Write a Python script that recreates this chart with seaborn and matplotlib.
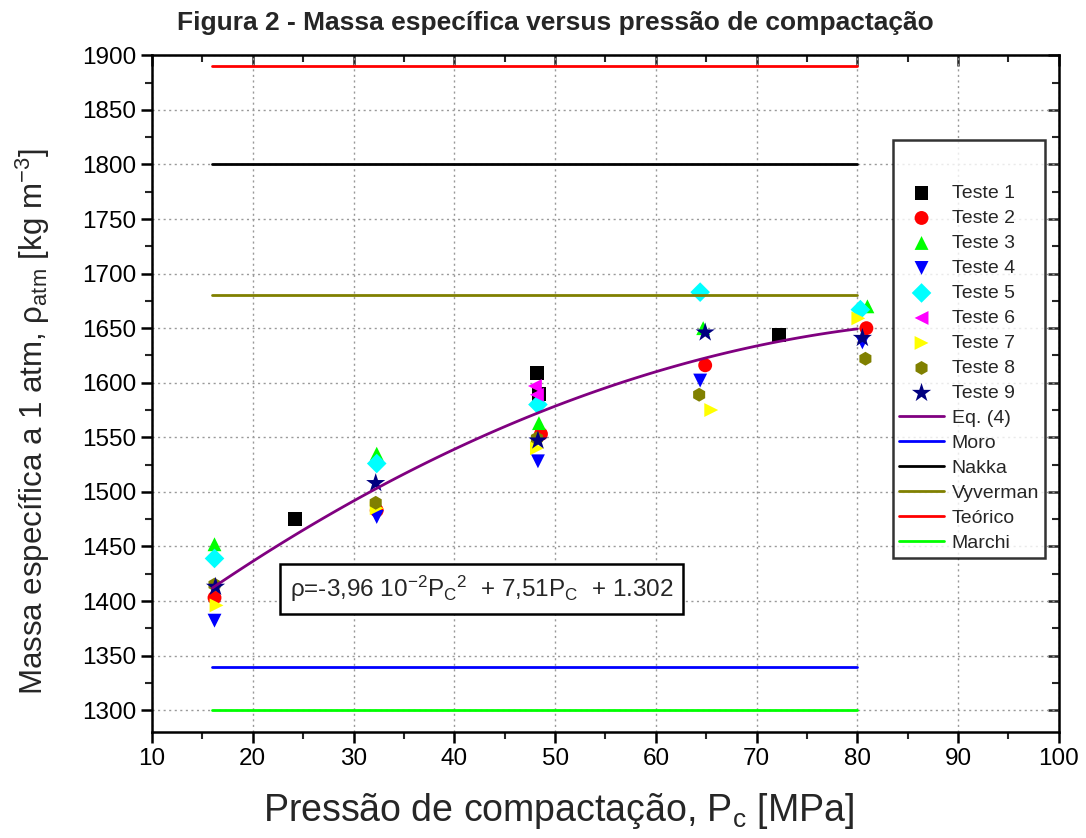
import numpy as np
import pandas as pd
import matplotlib
matplotlib.use("Agg")
import matplotlib.pyplot as plt
from matplotlib.ticker import MultipleLocator
import seaborn as sns

teste_nomes = ["Teste 1", "Teste 2", "Teste 3", "Teste 4", "Teste 5",
               "Teste 6", "Teste 7", "Teste 8", "Teste 9"]
teste_p = [
    [24.2, 48.2, 48.4, 72.2],
    [16.2, 32.3, 48.6, 64.9, 80.9],
    [16.2, 32.3, 48.4, 64.7, 81.0],
    [16.2, 32.3, 48.3, 64.4, 80.5],
    [16.2, 32.3, 48.3, 64.4, 80.3],
    [48.0, 48.2],
    [16.4, 32.3, 48.2, 65.5, 80.1],
    [16.2, 32.2, 48.2, 64.3, 80.8],
    [16.3, 32.2, 48.3, 64.9, 80.5],
]
teste_rho = [
    [1475, 1609, 1590, 1644],
    [1403, 1483, 1553, 1616, 1650],
    [1452, 1535, 1563, 1650, 1670],
    [1382, 1477, 1528, 1602, 1637],
    [1439, 1526, 1580, 1683, 1667],
    [1597, 1589],
    [1396, 1485, 1540, 1575, 1659],
    [1415, 1490, 1549, 1589, 1622],
    [1413, 1508, 1547, 1646, 1641],
]
teste_cores = ["#000000", "#ff0000", "#00ff00", "#0000ff", "#00ffff",
               "#ff00ff", "#ffff00", "#808000", "#000080"]
teste_marcadores = ["s", "o", "^", "v", "D", "<", ">", "h", "*"]

# Eq. (4): rho = a P^2 + b P + c
eq_coef = [-3.96e-2, 7.51, 1302]
eq_p_lim = [16, 80]

# valores de referencia (linhas horizontais)
ref_nomes = ["Moro", "Nakka", "Vyverman", "Teórico", "Marchi"]
ref_rho = [1340, 1800, 1680, 1890, 1300]
ref_cores = ["#0000ff", "#000000", "#808000", "#ff0000", "#00ff00"]
ref_p_lim = [16, 80]

sns.set_style("ticks")
plt.rcParams["font.family"] = ["Liberation Sans", "DejaVu Sans"]
plt.rcParams["mathtext.fontset"] = "custom"
plt.rcParams["mathtext.rm"] = "Liberation Sans"
plt.rcParams["mathtext.it"] = "Liberation Sans:italic"

fig = plt.figure(figsize=(10.86, 8.38), dpi=100)
ax = fig.add_axes([0.140, 0.1265, 0.835, 0.8075])

for nome, px, py, cor, m in zip(teste_nomes, teste_p, teste_rho, teste_cores, teste_marcadores):
    tam = 210 if m == "*" else 100
    sns.scatterplot(x=px, y=py, ax=ax, color=cor, marker=m, s=tam,
                    edgecolor="none", label=nome, zorder=1)

p_eq = np.linspace(eq_p_lim[0], eq_p_lim[1], 100)
rho_eq = np.polyval(eq_coef, p_eq)
sns.lineplot(x=p_eq, y=rho_eq, ax=ax, color="#800080", lw=2, label="Eq. (4)", zorder=3)

for nome, r, cor in zip(ref_nomes, ref_rho, ref_cores):
    sns.lineplot(x=ref_p_lim, y=[r, r], ax=ax, color=cor, lw=2, label=nome, zorder=3)

ax.set_xlim(10, 100)
ax.set_ylim(1280, 1900)
ax.xaxis.set_major_locator(MultipleLocator(10))
ax.xaxis.set_minor_locator(MultipleLocator(5))
ax.yaxis.set_major_locator(MultipleLocator(50))
ax.yaxis.set_minor_locator(MultipleLocator(25))
ax.grid(True, which="major", ls=(0, (1.5, 2.5)), color="#999999", lw=1)
ax.tick_params(which="major", direction="out", length=8, width=1.8, labelsize=17.5, colors="black")
ax.tick_params(which="minor", direction="out", length=5, width=1.5)
for s in ax.spines.values():
    s.set_linewidth(1.8)
    s.set_color("black")

topo = ax.secondary_xaxis("top")
topo.xaxis.set_major_locator(MultipleLocator(10))
topo.xaxis.set_minor_locator(MultipleLocator(5))
topo.tick_params(which="major", direction="in", length=8, width=1.8, labeltop=False)
topo.tick_params(which="minor", direction="in", length=5, width=1.5)
dir_ax = ax.secondary_yaxis("right")
dir_ax.yaxis.set_major_locator(MultipleLocator(50))
dir_ax.yaxis.set_minor_locator(MultipleLocator(25))
dir_ax.tick_params(which="major", direction="in", length=8, width=1.8, labelright=False)
dir_ax.tick_params(which="minor", direction="in", length=5, width=1.5)

ax.set_xlabel(r"Pressão de compactação, P$_\mathrm{c}$ [MPa]", fontsize=27)
ax.xaxis.set_label_coords(0.448, -0.087)
ax.set_ylabel(r"Massa específica a 1 atm, ρ$_\mathrm{atm}$ [kg m$^\mathrm{-3}$]", fontsize=22.5)
ax.yaxis.set_label_coords(-0.110, 0.459)

ax.text(42.7, 1411,
        r"ρ=-3,96 10$^\mathrm{-2}$P$_\mathrm{C}$$^\mathrm{2}$  + 7,51P$_\mathrm{C}$  + 1.302",
        fontsize=17.5, ha="center", va="center",
        bbox=dict(boxstyle="square,pad=0.42", fc="white", ec="black", lw=1.8))

handles, labels = ax.get_legend_handles_labels()
ordem = teste_nomes + ["Eq. (4)"] + ref_nomes
h_ord = [handles[labels.index(n)] for n in ordem]
leg = ax.legend(h_ord, ordem, loc="upper right", bbox_to_anchor=(0.9846, 0.8745),
                borderaxespad=0, fontsize=14, title=" ", title_fontsize=24,
                frameon=True, fancybox=False, handlelength=2.3, handletextpad=0.4,
                labelspacing=0.38, borderpad=0.3)
leg.get_frame().set_edgecolor("black")
leg.get_frame().set_linewidth(1.8)

fig.text(0.511, 0.972, "Figura 2 - Massa específica versus pressão de compactação",
         fontsize=19, fontweight="bold", ha="center", va="center")

fig.savefig("out.png", dpi=100)
